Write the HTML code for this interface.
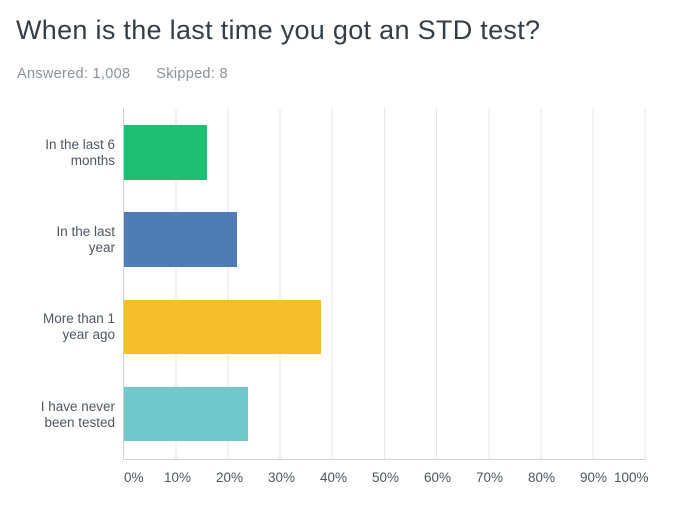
<!DOCTYPE html>
<html><head><style>
body{margin:0;width:700px;height:515px;background:#fff;font-family:"Liberation Sans",sans-serif;position:relative;overflow:hidden}
.t{position:absolute;left:16px;top:15px;font-size:27px;color:#333e48;letter-spacing:0.3px}
.s{position:absolute;left:17px;top:66px;font-size:14.5px;color:#8a9299;letter-spacing:0.3px}
.l{position:absolute;right:585px;font-size:13.5px;color:#4d5660;text-align:right;line-height:16px}
.x{position:absolute;top:470px;font-size:13.5px;color:#4d5660}
</style></head><body>
<div class="t">When is the last time you got an STD test?</div>
<div class="s">Answered: 1,008&nbsp;&nbsp;&nbsp;&nbsp;&nbsp;&nbsp;Skipped: 8</div>
<svg width="700" height="515" style="position:absolute;left:0;top:0">
<g stroke="#e4e6e8" stroke-width="1">
<line x1="176" y1="108" x2="176" y2="460"/><line x1="228" y1="108" x2="228" y2="460"/>
<line x1="280" y1="108" x2="280" y2="460"/><line x1="332" y1="108" x2="332" y2="460"/>
<line x1="384.5" y1="108" x2="384.5" y2="460"/><line x1="436.5" y1="108" x2="436.5" y2="460"/>
<line x1="489" y1="108" x2="489" y2="460"/><line x1="541" y1="108" x2="541" y2="460"/>
<line x1="593" y1="108" x2="593" y2="460"/><line x1="645" y1="108" x2="645" y2="460"/>
</g>
<line x1="123.5" y1="108" x2="123.5" y2="460" stroke="#ccd0d3"/>
<line x1="123" y1="459.5" x2="645" y2="459.5" stroke="#ccd0d3"/>
<rect x="124" y="125" width="83" height="55" fill="#1fbf73"/>
<rect x="124" y="212" width="113" height="55" fill="#507cb6"/>
<rect x="124" y="300" width="197" height="54" fill="#f6bd2c"/>
<rect x="124" y="387" width="124" height="54" fill="#70c8cc"/>
</svg>
<div class="l" style="top:137px">In the last 6<br>months</div>
<div class="l" style="top:224px">In the last<br>year</div>
<div class="l" style="top:311px">More than 1<br>year ago</div>
<div class="l" style="top:399px">I have never<br>been tested</div>
<div class="x" style="left:124px">0%</div>
<div class="x" style="left:164px">10%</div>
<div class="x" style="left:216px">20%</div>
<div class="x" style="left:268px">30%</div>
<div class="x" style="left:320px">40%</div>
<div class="x" style="left:372px">50%</div>
<div class="x" style="left:424px">60%</div>
<div class="x" style="left:476px">70%</div>
<div class="x" style="left:528px">80%</div>
<div class="x" style="left:580px">90%</div>
<div class="x" style="left:614px">100%</div>
</body></html>
